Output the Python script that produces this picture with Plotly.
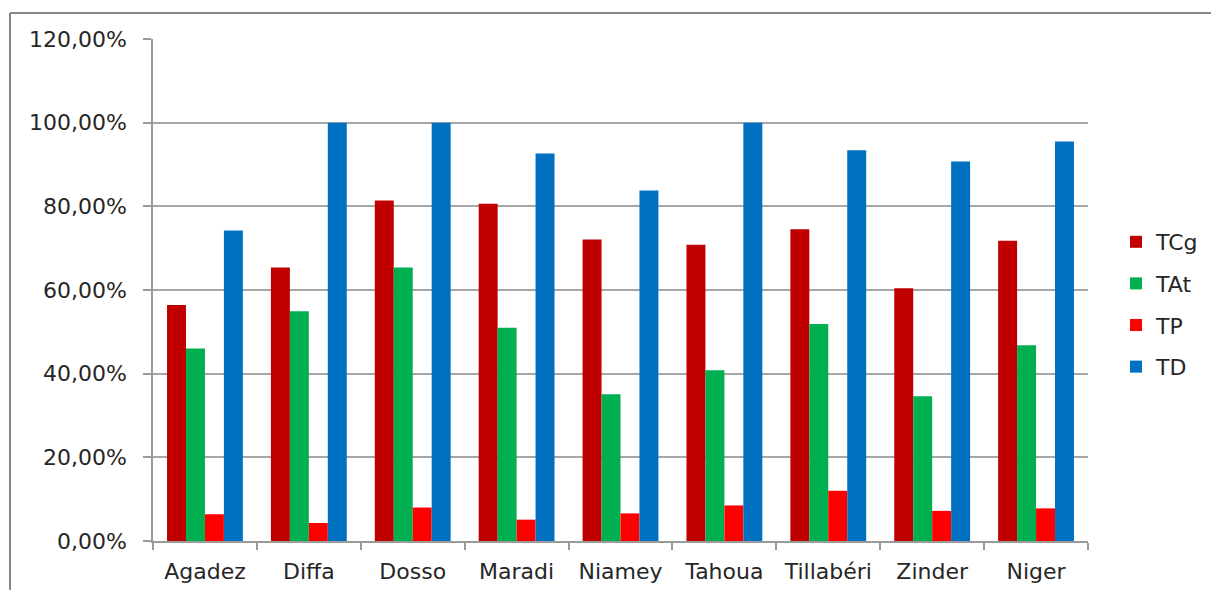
import plotly.graph_objects as go

regions = ["Agadez", "Diffa", "Dosso", "Maradi", "Niamey", "Tahoua", "Tillabéri", "Zinder", "Niger"]
tcg = [0.564, 0.654, 0.814, 0.806, 0.721, 0.708, 0.745, 0.604, 0.718]
tat = [0.460, 0.549, 0.654, 0.510, 0.351, 0.408, 0.519, 0.346, 0.468]
tp = [0.064, 0.043, 0.080, 0.051, 0.066, 0.085, 0.120, 0.072, 0.078]
td = [0.742, 1.000, 1.000, 0.926, 0.838, 1.000, 0.934, 0.907, 0.955]

series_names = ["TCg", "TAt", "TP", "TD"]
series_values = [tcg, tat, tp, td]
series_colors = ["#C00000", "#00B050", "#FF0000", "#0070C0"]

FONT = "DejaVu Sans"
FS = 22

fig = go.Figure()
for i, (name, vals, col) in enumerate(zip(series_names, series_values, series_colors)):
    fig.add_trace(go.Bar(
        x=regions, y=vals, name=name,
        marker=dict(color=col, line=dict(width=0)),
        legendgroup=name,
    ))

W, H = 1211, 590
L, R, T, B = 153, 123, 39, 49
pw = W - L - R
ph = H - T - B

def px_x(x):
    return (x - L) / pw

def px_y(y):
    return (H - B - y) / ph

fig.update_layout(
    width=W, height=H,
    margin=dict(l=L, r=R, t=T, b=B, pad=0, autoexpand=False),
    paper_bgcolor="white", plot_bgcolor="white",
    barmode="group", bargap=0.27, bargroupgap=0,
    separators=", ",
    font=dict(family=FONT, size=FS, color="#262626"),
    showlegend=True,
    legend=dict(
        x=px_x(1116), y=px_y(304.5), xanchor="left", yanchor="middle",
        font=dict(family=FONT, size=FS, color="#262626"),
        tracegroupgap=10, itemsizing="constant",
        bgcolor="rgba(0,0,0,0)",
    ),
    xaxis=dict(
        type="category", automargin=False,
        showline=True, linecolor="#9a9a9a", linewidth=1.5,
        ticks="outside", tickson="boundaries", ticklen=7, tickcolor="#9a9a9a", tickwidth=1.5,
        showgrid=False,
        tickfont=dict(family=FONT, size=FS, color="#262626"),
        ticklabelstandoff=10,
    ),
    yaxis=dict(
        range=[0, 1.2], dtick=0.2, tick0=0, automargin=False,
        tickformat=".2%",
        showline=True, linecolor="#9a9a9a", linewidth=1.5,
        ticks="outside", ticklen=8, tickcolor="#9a9a9a", tickwidth=1.5,
        showgrid=True, gridcolor="#a6a6a6", gridwidth=1.5,
        zeroline=False,
        tickfont=dict(family=FONT, size=FS, color="#262626"),
        ticklabelstandoff=12,
    ),
    shapes=[
        dict(type="line", xref="paper", yref="paper",
             x0=px_x(10), x1=px_x(10), y0=px_y(600), y1=px_y(13),
             line=dict(color="#878787", width=2)),
        dict(type="line", xref="paper", yref="paper",
             x0=px_x(10), x1=px_x(1220), y0=px_y(13), y1=px_y(13),
             line=dict(color="#878787", width=2)),
    ],
)

fig.write_html(
    "out.html",
    config={"displayModeBar": False},
    post_script="document.body.style.margin='0px';document.body.style.overflow='hidden';",
)
